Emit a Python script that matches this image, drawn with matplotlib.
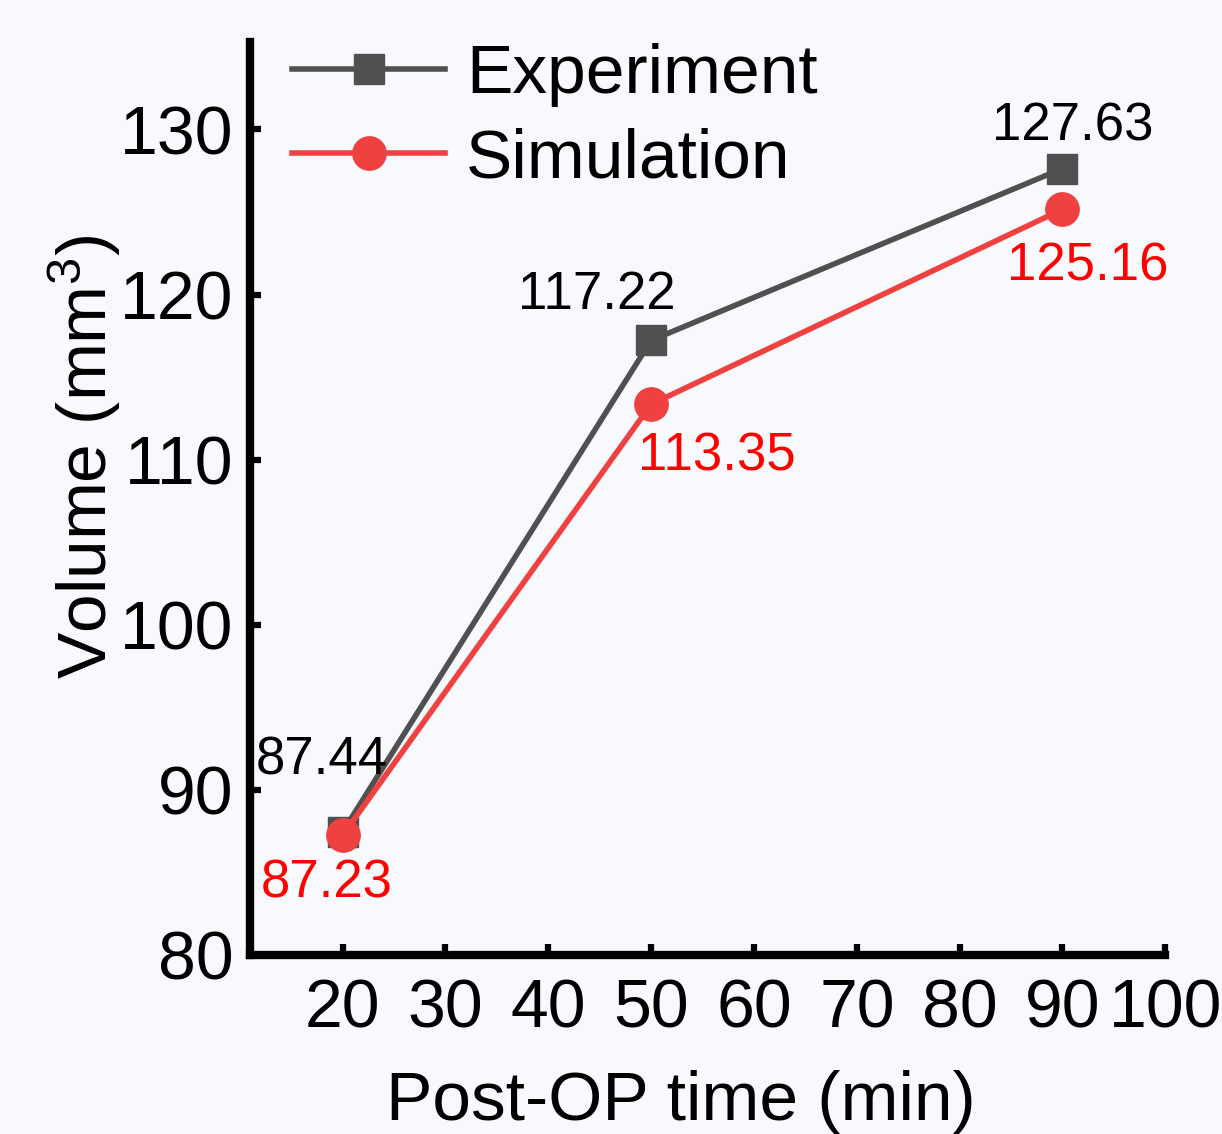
import matplotlib.pyplot as plt

plt.rcParams.update({'font.family': 'Liberation Sans', 'font.size': 50,
                     'mathtext.fontset': 'custom',
                     'mathtext.rm': 'Liberation Sans',
                     'mathtext.it': 'Liberation Sans:italic'})

# Data
times = [20, 50, 90]
experiment = [87.44, 117.22, 127.63]
simulation = [87.23, 113.35, 125.16]
x_ticks = [20, 30, 40, 50, 60, 70, 80, 90, 100]
y_ticks = [80, 90, 100, 110, 120, 130]

bg = '#F7F9FD'
grey = '#505050'
red = '#F04040'

fig = plt.figure(figsize=(12.22, 11.34), dpi=100, facecolor=bg)
ax = fig.add_axes([0.2046, 0.158, 0.749, 0.805], facecolor=bg)

ax.plot(times, experiment, color=grey, lw=4, marker='s', ms=22,
        label='Experiment', zorder=3)
ax.plot(times, simulation, color=red, lw=4, marker='o', ms=24,
        label='Simulation', zorder=4)

# value labels, offsets in pixels
exp_offsets = [(-21, 72), (-54, 45), (10, 42)]
sim_offsets = [(-16, -48), (66, -52), (25, -57)]
for t, v, off in zip(times, experiment, exp_offsets):
    ax.annotate(f'{v:.2f}', (t, v), xytext=off, textcoords='offset pixels',
                ha='center', va='center', fontsize=38, color='black')
for t, v, off in zip(times, simulation, sim_offsets):
    ax.annotate(f'{v:.2f}', (t, v), xytext=off, textcoords='offset pixels',
                ha='center', va='center', fontsize=38, color='#FF0000')

ax.set_xlim(11, 100)
ax.set_ylim(80, 135.3)
ax.set_xticks(x_ticks)
ax.set_yticks(y_ticks)
ax.tick_params(direction='in', length=8, width=4.5, labelsize=49)
ax.tick_params(axis='x', pad=16)
ax.tick_params(axis='y', pad=12)

for side in ['top', 'right']:
    ax.spines[side].set_visible(False)
for side in ['left', 'bottom']:
    ax.spines[side].set_linewidth(6)

ax.set_xlabel('Post-OP time (min)', fontsize=50)
ax.set_ylabel('Volume (mm$^3$)', fontsize=50)
ax.xaxis.set_label_coords(0.471, -0.126)
ax.yaxis.set_label_coords(-0.139, 0.545)

ax.legend(loc='upper left', frameon=False, fontsize=50, handlelength=2.2,
          handletextpad=0.3, borderaxespad=0.0, labelspacing=0.29,
          bbox_to_anchor=(0.016, 1.029))

fig.savefig('out.png', dpi=100, facecolor=bg)
